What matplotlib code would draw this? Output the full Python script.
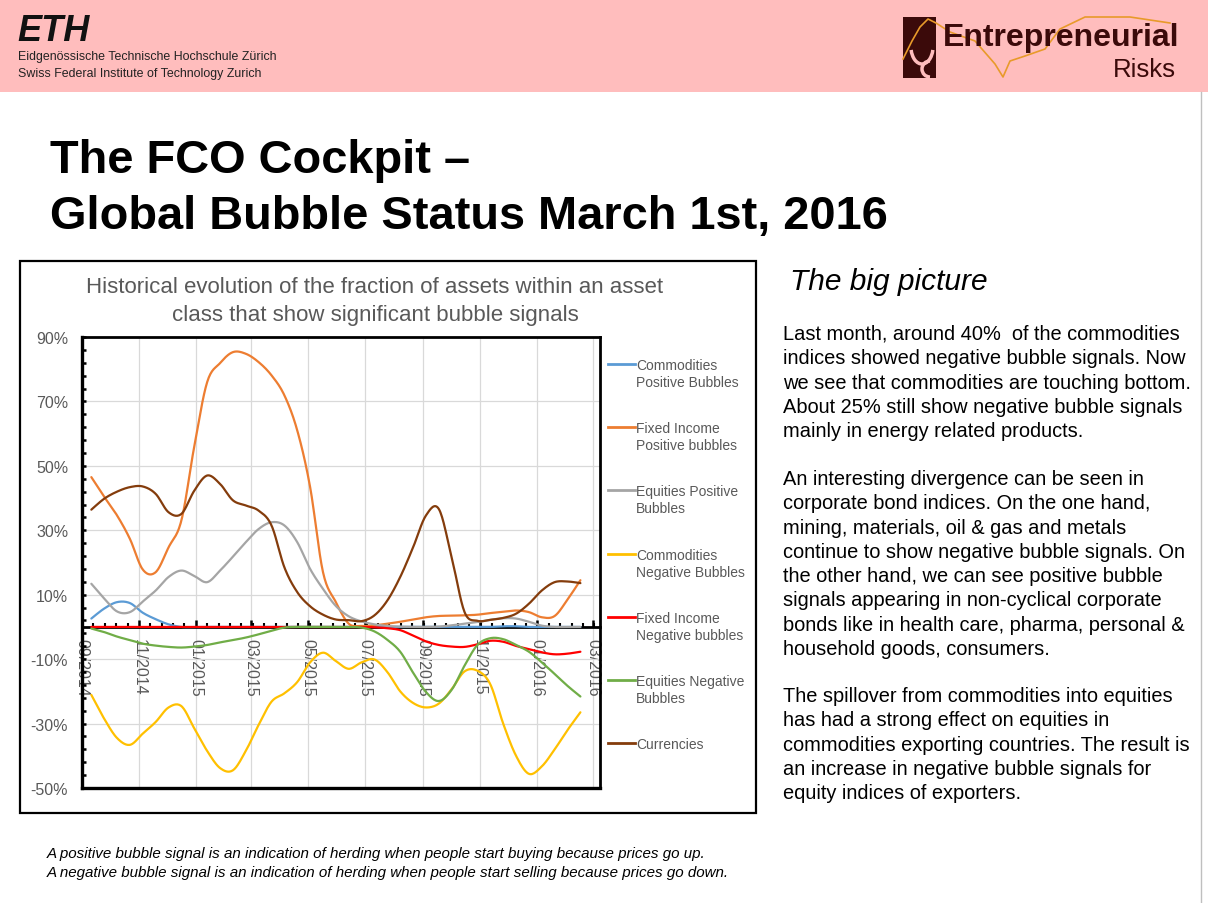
import numpy as np
import pandas as pd
import matplotlib
matplotlib.use('Agg')
import matplotlib.pyplot as plt
import matplotlib.dates as mdates
from matplotlib.ticker import MultipleLocator, FuncFormatter, AutoMinorLocator
from matplotlib.patches import Rectangle, Arc
from matplotlib.lines import Line2D

W, H = 1208, 904
plt.rcParams['font.family'] = ['Liberation Sans', 'DejaVu Sans']

# observation dates (roughly every two weeks)
dates = pd.date_range('2014-09-11', '2016-02-17', periods=39)

comm_pos = [2.6, 5.7, 7.7, 7.4, 4.4, 2.4, 0.8, 0, 0, 0, 0, 0, 0, 0, 0, 0, 0, 0, 0, 0,
            0, 0, 0, 0, 0, 0, 0, 0, 0, 0, 0, 0, 0.2, 0.2, 0, 0, 0, 0, 0]
fi_pos = [46.5, 40.4, 34.6, 27.3, 17.8, 17.0, 24.7, 33.1, 56.1, 76.0, 81.9, 85.3, 84.8,
          82.2, 78.1, 71.9, 61.0, 43.4, 17.0, 7.7, 1.0, 0.3, 0.5, 1.0, 1.6, 2.3, 3.0,
          3.4, 3.5, 3.6, 3.8, 4.3, 4.7, 5.1, 4.6, 3.0, 3.4, 8.5, 14.5]
eq_pos = [13.4, 8.8, 4.8, 4.6, 7.9, 11.3, 15.5, 17.5, 15.8, 13.9, 17.5, 21.8, 26.3,
          30.4, 32.5, 31.5, 26.3, 18.0, 11.8, 6.5, 3.3, 1.7, 0.8, 0.3, 0.1, 0, 0,
          0.1, 0.5, 1.0, 1.5, 2.2, 2.7, 2.6, 1.6, 0.4, 0, 0, 0]
comm_neg = [-21.1, -28.5, -34.5, -36.6, -33.1, -29.5, -25.0, -24.6, -31.5, -38.5, -43.8,
            -44.5, -38.5, -30.4, -23.2, -20.6, -17.1, -11.0, -8.0, -10.6, -13.0, -11.0,
            -10.1, -14.0, -20.0, -23.6, -25.0, -23.8, -19.3, -13.8, -13.6, -17.8, -30.0,
            -40.0, -45.6, -43.3, -38.0, -32.0, -26.5]
fi_neg = [0, 0, 0, 0, 0, 0, 0, 0, 0, 0, 0, 0, 0, 0, 0, 0, 0, 0, 0, 0, 0, 0,
          -0.1, -0.4, -1.0, -2.7, -4.5, -5.6, -6.1, -6.2, -5.4, -4.3, -4.6, -5.9,
          -6.9, -7.9, -8.5, -8.3, -7.7]
eq_neg = [-0.5, -1.6, -3.0, -4.1, -5.2, -5.8, -6.2, -6.4, -6.1, -5.6, -4.8, -4.1, -3.3,
          -2.3, -1.2, -0.2, 0, 0, 0, 0, 0, -0.2, -1.4, -4.0, -7.7, -14.2, -20.2, -23.0,
          -19.5, -12.0, -5.6, -3.5, -3.8, -5.6, -7.7, -11.0, -14.6, -18.3, -21.6]
currencies = [36.4, 39.8, 42.0, 43.4, 43.6, 41.3, 35.6, 35.1, 42.3, 47.0, 44.4, 39.3,
              37.7, 36.1, 31.5, 18.5, 10.8, 6.4, 3.8, 2.3, 2.1, 1.8, 3.6, 8.2, 15.5,
              24.7, 34.6, 36.6, 21.6, 4.6, 1.9, 2.2, 2.8, 4.1, 7.2, 11.3, 13.9, 14.1, 13.6]

series = [comm_pos, fi_pos, eq_pos, comm_neg, fi_neg, eq_neg, currencies]
labels = [['Commodities', 'Positive Bubbles'], ['Fixed Income', 'Positive bubbles'],
          ['Equities Positive', 'Bubbles'], ['Commodities', 'Negative Bubbles'],
          ['Fixed Income', 'Negative bubbles'], ['Equities Negative', 'Bubbles'],
          ['Currencies']]
colors = ['#5B9BD5', '#ED7D31', '#A5A5A5', '#FFC000', '#FF0000', '#70AD47', '#843C0C']

body = [
    ['Last month, around 40%  of the commodities',
     'indices showed negative bubble signals. Now',
     'we see that commodities are touching bottom.',
     'About 25% still show negative bubble signals',
     'mainly in energy related products.'],
    ['An interesting divergence can be seen in',
     'corporate bond indices. On the one hand,',
     'mining, materials, oil & gas and metals',
     'continue to show negative bubble signals. On',
     'the other hand, we can see positive bubble',
     'signals appearing in non-cyclical corporate',
     'bonds like in health care, pharma, personal &',
     'household goods, consumers.'],
    ['The spillover from commodities into equities',
     'has had a strong effect on equities in',
     'commodities exporting countries. The result is',
     'an increase in negative bubble signals for',
     'equity indices of exporters.'],
]


def fx(x):
    return x / W


def fy(y):
    return 1 - y / H


def smooth(x, y, n=16):
    # excel style smoothed line (bezier through the points)
    P = np.column_stack([x, y]).astype(float)
    P = np.vstack([P[:1], P, P[-1:]])
    t = np.linspace(0, 1, n, endpoint=False)[:, None]
    out = []
    for k in range(len(P) - 3):
        p0, p1 = P[k + 1], P[k + 2]
        c1 = p0 + (p1 - P[k]) / 6
        c2 = p1 - (P[k + 3] - p0) / 6
        out.append((1 - t) ** 3 * p0 + 3 * (1 - t) ** 2 * t * c1 + 3 * (1 - t) * t ** 2 * c2 + t ** 3 * p1)
    out.append(P[-2:-1])
    out = np.vstack(out)
    return out[:, 0], out[:, 1]


fig = plt.figure(figsize=(W / 100, H / 100), dpi=100)

# header band
fig.add_artist(Rectangle((0, fy(93)), 1, 93 / H, transform=fig.transFigure,
                         facecolor='#FFBDBD', edgecolor='none', zorder=0))
fig.text(fx(17), fy(41), 'ETH', fontsize=26, fontweight='bold', fontstyle='italic', color='#111111')
fig.text(fx(18), fy(60), 'Eidgenössische Technische Hochschule Zürich', fontsize=8.9, color='#222222')
fig.text(fx(18), fy(77), 'Swiss Federal Institute of Technology Zurich', fontsize=8.9, color='#222222')

# logo on the right
fig.add_artist(Rectangle((fx(903), fy(79)), 33 / W, 61 / H, transform=fig.transFigure,
                         facecolor='#3B0A0A', edgecolor='none'))
fig.add_artist(Arc((fx(922), fy(48)), 22 / W, 34 / H, theta1=200, theta2=340,
                   transform=fig.transFigure, color='#FFBDBD', lw=2.5))
fig.add_artist(Arc((fx(930), fy(70)), 16 / W, 16 / H, theta1=90, theta2=270,
                   transform=fig.transFigure, color='#FFBDBD', lw=2.5))
wave_x = [903, 912, 920, 928, 936, 950, 975, 995, 1003, 1010, 1025, 1045, 1060, 1085, 1130, 1170]
wave_y = [60, 42, 28, 20, 24, 33, 42, 65, 78, 62, 57, 50, 30, 18, 18, 24]
fig.add_artist(Line2D([fx(v) for v in wave_x], [fy(v) for v in wave_y], transform=fig.transFigure,
                      color='#E89A2A', lw=1.2))
fig.text(fx(943), fy(46), 'Entrepreneurial', fontsize=23, fontweight='bold', color='#3B0A0A')
fig.text(fx(1176), fy(77), 'Risks', fontsize=18.5, ha='right', color='#3B0A0A')
fig.add_artist(Line2D([fx(1201), fx(1201)], [fy(93), 0], transform=fig.transFigure,
                      color='#BFBFBF', lw=1))

# title
fig.text(fx(50), fy(173), 'The FCO Cockpit –', fontsize=33.8, fontweight='bold')
fig.text(fx(50), fy(229), 'Global Bubble Status March 1st, 2016', fontsize=33.8, fontweight='bold')

# chart frame
fig.add_artist(Rectangle((fx(20), fy(814)), 736 / W, 552 / H, transform=fig.transFigure,
                         facecolor='none', edgecolor='black', lw=1.6))
fig.text(fx(375), fy(293), 'Historical evolution of the fraction of assets within an asset',
         fontsize=16, ha='center', color='#595959')
fig.text(fx(375), fy(321), 'class that show significant bubble signals',
         fontsize=16, ha='center', color='#595959')

ax = fig.add_axes([fx(82), fy(789), 518 / W, 451 / H])
xn = mdates.date2num(dates)
for vals, col in zip(series, colors):
    sx, sy = smooth(xn, vals)
    ax.plot(sx, sy, color=col, lw=1.6, zorder=3, solid_capstyle='round')

ax.set_xlim(mdates.date2num(pd.Timestamp('2014-09-01')), mdates.date2num(pd.Timestamp('2016-03-09')))
ax.set_ylim(-50, 90)
ax.set_yticks(np.arange(-50, 91, 20))
ax.yaxis.set_minor_locator(MultipleLocator(4, offset=2))
ax.yaxis.set_major_formatter(FuncFormatter(lambda v, p: '%d%%' % v))
ax.xaxis.set_major_locator(mdates.MonthLocator(bymonth=[1, 3, 5, 7, 9, 11]))
ax.xaxis.set_major_formatter(mdates.DateFormatter('%m/%Y'))
ax.xaxis.set_minor_locator(AutoMinorLocator(5))
ax.grid(True, which='major', color='#D9D9D9', lw=0.9, zorder=0)
ax.set_axisbelow(True)

for side in ['left', 'top', 'right']:
    ax.spines[side].set_linewidth(2)
ax.spines['left'].set_linewidth(2.4)
ax.spines['bottom'].set_position(('data', 0))
ax.spines['bottom'].set_linewidth(2)
ax.plot([0, 1], [0, 0], transform=ax.transAxes, color='black', lw=2.4, clip_on=False, zorder=4)

ax.tick_params(axis='y', which='major', direction='in', length=3, width=1.8, pad=10,
               labelsize=11.5, labelcolor='#595959')
ax.tick_params(axis='y', which='minor', direction='in', length=3, width=1.8)
ax.tick_params(axis='x', which='major', direction='in', length=5, width=1.8, pad=8,
               labelsize=11.5, labelcolor='#595959', labelrotation=270)
ax.tick_params(axis='x', which='minor', direction='in', length=3, width=1.5)
for lab in ax.get_xticklabels():
    lab.set_va('top')
    lab.set_ha('center')

# legend
for i, (lab, col) in enumerate(zip(labels, colors)):
    y0 = 365 + i * 63.2
    fig.add_artist(Line2D([fx(608), fx(635)], [fy(y0), fy(y0)], transform=fig.transFigure,
                          color=col, lw=2))
    for j, line in enumerate(lab):
        fig.text(fx(636), fy(y0 + 5 + j * 17), line, fontsize=10, color='#595959')

# right side text
fig.text(fx(790), fy(290), 'The big picture', fontsize=21.5, fontstyle='italic')
starts = [340, 485, 702]
for para, y0 in zip(body, starts):
    for j, line in enumerate(para):
        fig.text(fx(783), fy(y0 + j * 24.3), line, fontsize=14.4)

fig.text(fx(47), fy(858), 'A positive bubble signal is an indication of herding when people start buying because prices go up.',
         fontsize=10.9, fontstyle='italic')
fig.text(fx(47), fy(877), 'A negative bubble signal is an indication of herding when people start selling because prices go down.',
         fontsize=10.9, fontstyle='italic')

plt.savefig('out.png', dpi=100)
